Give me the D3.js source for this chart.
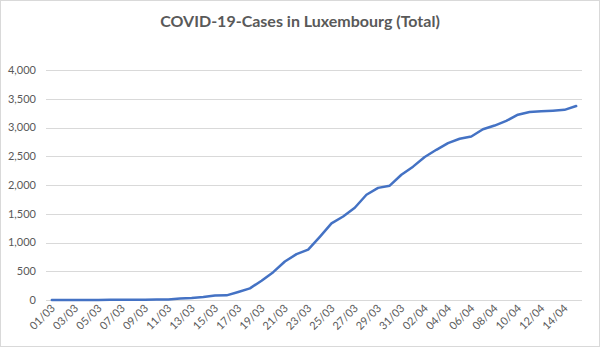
<!DOCTYPE html>
<html><head><meta charset="utf-8">
<script src="https://cdn.jsdelivr.net/npm/d3@7"></script>
<style>
html,body{margin:0;padding:0;background:#fff;}
svg{display:block;font-family:Lato,"Open Sans",sans-serif;}
</style></head>
<body><svg id="c" width="600" height="347"></svg>
<script>
const title = "COVID-19-Cases in Luxembourg (Total)";
const dates = ["01/03","02/03","03/03","04/03","05/03","06/03","07/03","08/03","09/03","10/03","11/03","12/03","13/03","14/03","15/03","16/03","17/03","18/03","19/03","20/03","21/03","22/03","23/03","24/03","25/03","26/03","27/03","28/03","29/03","30/03","31/03","01/04","02/04","03/04","04/04","05/04","06/04","07/04","08/04","09/04","10/04","11/04","12/04","13/04","14/04","15/04"];
const cases = [1,1,1,1,2,3,3,4,5,7,7,26,34,51,77,81,140,203,335,484,670,798,875,1099,1333,1453,1605,1831,1950,1988,2178,2319,2487,2612,2729,2804,2843,2970,3034,3115,3223,3270,3281,3292,3307,3373];
const yTicks = [0,500,1000,1500,2000,2500,3000,3500,4000];
const xLabels = dates.filter((d,i)=>i%2===0);

const svg = d3.select("#c");
svg.append("rect").attr("x",0.5).attr("y",0.5).attr("width",599).attr("height",346)
  .attr("fill","#fff").attr("stroke","#d9d9d9");

const L=46,R=582,T=70,B=300;
const x = d3.scaleBand().domain(dates).range([L,R]);
const y = d3.scaleLinear().domain([0,4000]).range([B,T]);

svg.append("text").attr("x",300).attr("y",27).attr("text-anchor","middle")
  .attr("font-size",16).attr("font-weight","bold").attr("fill","#595959").text(title);

// gridlines
svg.append("g").selectAll("line").data(yTicks).join("line")
  .attr("x1",L).attr("x2",R).attr("y1",d=>Math.round(y(d))+0.5).attr("y2",d=>Math.round(y(d))+0.5)
  .attr("stroke","#d9d9d9").attr("stroke-width",1);

// y labels
const fmt = d3.format(",");
svg.append("g").selectAll("text").data(yTicks).join("text")
  .attr("x",36).attr("y",d=>y(d)).attr("dy","0.35em").attr("text-anchor","end")
  .attr("font-size",11).attr("fill","#595959").text(d=>fmt(d));

// x labels
svg.append("g").selectAll("text").data(xLabels).join("text")
  .attr("text-anchor","end").attr("font-size",11).attr("fill","#595959")
  .attr("transform",d=>`translate(${x(d)+x.bandwidth()/2+4},${309}) rotate(-45)`)
  .text(d=>d);

// line
const line = d3.line().x((d,i)=>x(dates[i])+x.bandwidth()/2).y(d=>y(d));
svg.append("path").datum(cases).attr("d",line).attr("fill","none")
  .attr("stroke","#4472c4").attr("stroke-width",2.5).attr("stroke-linejoin","round").attr("stroke-linecap","round");
</script></body></html>
